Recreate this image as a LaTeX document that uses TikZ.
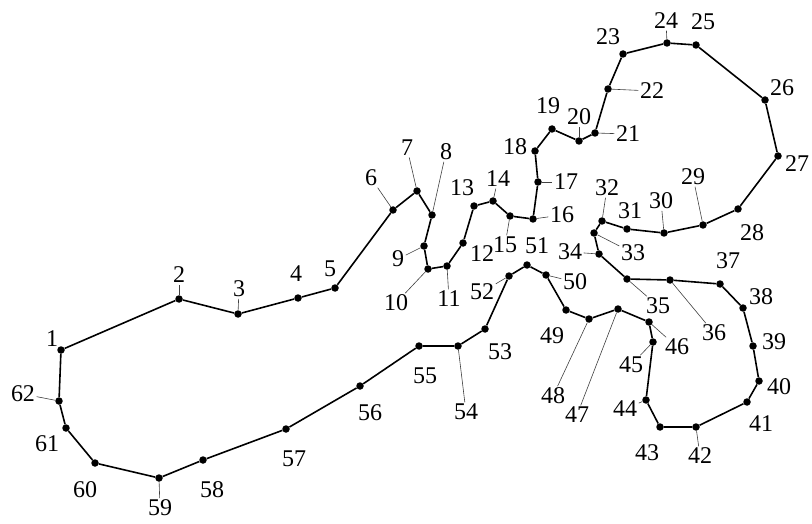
\documentclass[tikz,border=0pt]{standalone}
\usepackage{fontspec}
\setmainfont{Liberation Serif}

\begin{document}
\begin{tikzpicture}[
    x=1pt, y=-1pt,
    dot/.style     = {circle, fill=black, inner sep=0pt, minimum size=7.5pt},
    num/.style     = {font=\fontsize{24}{24}\selectfont, inner sep=1.5pt},
    outline/.style = {line width=1.6pt, line join=round},
    leader/.style  = {line width=0.6pt, black!75}
]
\useasboundingbox (0,0) rectangle (812,524);

% --- Titik 1-16 ---
\node[dot] (p1)  at (61,350)  {}; \node[num] (l1)  at (52,339)  {1};
\node[dot] (p2)  at (179,299) {}; \node[num] (l2)  at (179,275) {2};
\node[dot] (p3)  at (238,314) {}; \node[num] (l3)  at (239,289) {3};
\node[dot] (p4)  at (298,298) {}; \node[num] (l4)  at (296,274) {4};
\node[dot] (p5)  at (335,288) {}; \node[num] (l5)  at (330,269) {5};
\node[dot] (p6)  at (393,210) {}; \node[num] (l6)  at (371,178) {6};
\node[dot] (p7)  at (417,191) {}; \node[num] (l7)  at (407,148) {7};
\node[dot] (p8)  at (432,215) {}; \node[num] (l8)  at (446,152) {8};
\node[dot] (p9)  at (424,246) {}; \node[num] (l9)  at (398,259) {9};
\node[dot] (p10) at (428,269) {}; \node[num] (l10) at (396,303) {10};
\node[dot] (p11) at (447,266) {}; \node[num] (l11) at (449,299) {11};
\node[dot] (p12) at (463,243) {}; \node[num] (l12) at (482,254) {12};
\node[dot] (p13) at (474,206) {}; \node[num] (l13) at (462,188) {13};
\node[dot] (p14) at (493,201) {}; \node[num] (l14) at (498,179) {14};
\node[dot] (p15) at (510,216) {}; \node[num] (l15) at (505,245) {15};
\node[dot] (p16) at (533,219) {}; \node[num] (l16) at (562,215) {16};

% --- Titik 17-31 ---
\node[dot] (p17) at (538,182) {}; \node[num] (l17) at (566,182) {17};
\node[dot] (p18) at (535,151) {}; \node[num] (l18) at (515,147) {18};
\node[dot] (p19) at (552,129) {}; \node[num] (l19) at (548,106) {19};
\node[dot] (p20) at (579,141) {}; \node[num] (l20) at (579,117) {20};
\node[dot] (p21) at (595,133) {}; \node[num] (l21) at (628,134) {21};
\node[dot] (p22) at (608,89)  {}; \node[num] (l22) at (652,91)  {22};
\node[dot] (p23) at (623,54)  {}; \node[num] (l23) at (608,37)  {23};
\node[dot] (p24) at (667,43)  {}; \node[num] (l24) at (666,21)  {24};
\node[dot] (p25) at (696,45)  {}; \node[num] (l25) at (703,22)  {25};
\node[dot] (p26) at (765,100) {}; \node[num] (l26) at (782,88)  {26};
\node[dot] (p27) at (778,156) {}; \node[num] (l27) at (797,164) {27};
\node[dot] (p28) at (738,209) {}; \node[num] (l28) at (752,233) {28};
\node[dot] (p29) at (703,225) {}; \node[num] (l29) at (693,177) {29};
\node[dot] (p30) at (664,233) {}; \node[num] (l30) at (661,201) {30};
\node[dot] (p31) at (627,229) {}; \node[num] (l31) at (630,211) {31};

% --- Titik 32-46 ---
\node[dot] (p32) at (602,221) {}; \node[num] (l32) at (607,188) {32};
\node[dot] (p33) at (594,233) {}; \node[num] (l33) at (633,253) {33};
\node[dot] (p34) at (599,254) {}; \node[num] (l34) at (570,252) {34};
\node[dot] (p35) at (627,279) {}; \node[num] (l35) at (658,306) {35};
\node[dot] (p36) at (670,280) {}; \node[num] (l36) at (714,333) {36};
\node[dot] (p37) at (720,284) {}; \node[num] (l37) at (728,261) {37};
\node[dot] (p38) at (743,308) {}; \node[num] (l38) at (761,297) {38};
\node[dot] (p39) at (753,346) {}; \node[num] (l39) at (774,342) {39};
\node[dot] (p40) at (759,381) {}; \node[num] (l40) at (779,387) {40};
\node[dot] (p41) at (747,402) {}; \node[num] (l41) at (761,424) {41};
\node[dot] (p42) at (696,427) {}; \node[num] (l42) at (700,456) {42};
\node[dot] (p43) at (660,427) {}; \node[num] (l43) at (647,453) {43};
\node[dot] (p44) at (646,400) {}; \node[num] (l44) at (625,409) {44};
\node[dot] (p45) at (653,342) {}; \node[num] (l45) at (631,365) {45};
\node[dot] (p46) at (649,322) {}; \node[num] (l46) at (677,347) {46};

% --- Titik 47-62 ---
\node[dot] (p47) at (618,309) {}; \node[num] (l47) at (577,415) {47};
\node[dot] (p48) at (589,319) {}; \node[num] (l48) at (553,396) {48};
\node[dot] (p49) at (566,310) {}; \node[num] (l49) at (552,336) {49};
\node[dot] (p50) at (546,275) {}; \node[num] (l50) at (575,282) {50};
\node[dot] (p51) at (527,265) {}; \node[num] (l51) at (537,246) {51};
\node[dot] (p52) at (509,276) {}; \node[num] (l52) at (482,292) {52};
\node[dot] (p53) at (485,329) {}; \node[num] (l53) at (500,352) {53};
\node[dot] (p54) at (458,346) {}; \node[num] (l54) at (466,412) {54};
\node[dot] (p55) at (419,346) {}; \node[num] (l55) at (425,376) {55};
\node[dot] (p56) at (360,386) {}; \node[num] (l56) at (370,413) {56};
\node[dot] (p57) at (286,429) {}; \node[num] (l57) at (294,459) {57};
\node[dot] (p58) at (203,460) {}; \node[num] (l58) at (212,490) {58};
\node[dot] (p59) at (159,478) {}; \node[num] (l59) at (160,508) {59};
\node[dot] (p60) at (95,463)  {}; \node[num] (l60) at (85,490)  {60};
\node[dot] (p61) at (66,428)  {}; \node[num] (l61) at (47,444)  {61};
\node[dot] (p62) at (59,401)  {}; \node[num] (l62) at (23,394)  {62};

% --- Kontur ---
\draw[outline] (p1) -- (p2) -- (p3) -- (p4) -- (p5) -- (p6) -- (p7) -- (p8) -- (p9) -- (p10)
  -- (p11) -- (p12) -- (p13) -- (p14) -- (p15) -- (p16) -- (p17) -- (p18) -- (p19) -- (p20)
  -- (p21) -- (p22) -- (p23) -- (p24) -- (p25) -- (p26) -- (p27) -- (p28) -- (p29) -- (p30)
  -- (p31) -- (p32) -- (p33) -- (p34) -- (p35) -- (p36) -- (p37) -- (p38) -- (p39) -- (p40)
  -- (p41) -- (p42) -- (p43) -- (p44) -- (p45) -- (p46) -- (p47) -- (p48) -- (p49) -- (p50)
  -- (p51) -- (p52) -- (p53) -- (p54) -- (p55) -- (p56) -- (p57) -- (p58) -- (p59) -- (p60)
  -- (p61) -- (p62) -- (p1);

% --- Garis penunjuk ---
\draw[leader] (p2) -- (l2);
\draw[leader] (p3) -- (l3);
\draw[leader] (p6) -- (l6);
\draw[leader] (p7) -- (l7);
\draw[leader] (p8) -- (l8);
\draw[leader] (p9) -- (l9);
\draw[leader] (p10) -- (l10);
\draw[leader] (p11) -- (l11);
\draw[leader] (p14) -- (l14);
\draw[leader] (p15) -- (l15);
\draw[leader] (p16) -- (l16);
\draw[leader] (p17) -- (l17);
\draw[leader] (p20) -- (l20);
\draw[leader] (p21) -- (l21);
\draw[leader] (p22) -- (l22);
\draw[leader] (p24) -- (l24);
\draw[leader] (p29) -- (l29);
\draw[leader] (p30) -- (l30);
\draw[leader] (p32) -- (l32);
\draw[leader] (p33) -- (l33);
\draw[leader] (p34) -- (l34);
\draw[leader] (p35) -- (l35);
\draw[leader] (p36) -- (l36);
\draw[leader] (p42) -- (l42);
\draw[leader] (p44) -- (l44);
\draw[leader] (p45) -- (l45);
\draw[leader] (p46) -- (l46);
\draw[leader] (p47) -- (l47);
\draw[leader] (p48) -- (l48);
\draw[leader] (p50) -- (l50);
\draw[leader] (p52) -- (l52);
\draw[leader] (p54) -- (l54);
\draw[leader] (p59) -- (l59);
\draw[leader] (p62) -- (l62);

\end{tikzpicture}
\end{document}
